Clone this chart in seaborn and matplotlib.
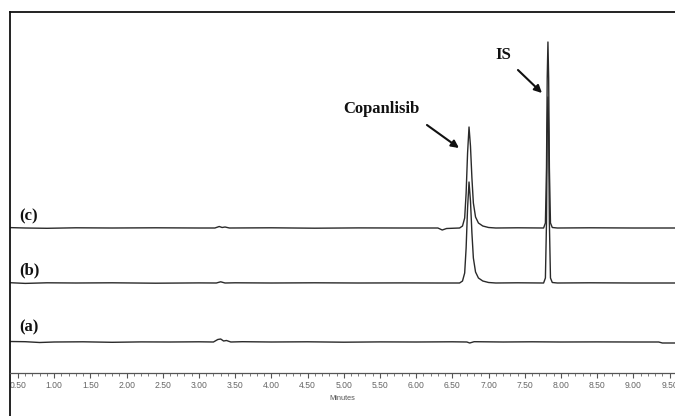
import matplotlib
matplotlib.use("Agg")
import matplotlib.pyplot as plt
import seaborn as sns
import pandas as pd
import numpy as np

# ---- data (signal in arbitrary units above each baseline) ----
trace_names = ["(a)", "(b)", "(c)"]
trace_offsets = [31, 90, 145]

time_a = [0.39, 0.60, 0.80, 1.00, 1.40, 1.80, 2.20, 2.60, 3.00, 3.20, 3.26, 3.30, 3.34, 3.38, 3.44,
          3.60, 4.00, 4.50, 5.00, 5.50, 6.00, 6.50, 6.70, 6.74, 6.80, 7.20, 7.60, 8.00, 8.50, 9.00, 9.35, 9.40, 9.58]
signal_a = [0.5, 0.3, -0.5, 0.0, 0.2, -0.3, 0.1, 0.0, 0.2, 0.0, 2.5, 3.0, 1.0, 1.5, 0.0,
            0.3, 0.0, 0.2, -0.2, 0.1, 0.0, 0.2, 0.0, -1.0, 0.3, 0.0, 0.2, 0.0, 0.1, 0.0, 0.0, -1.0, -1.0]

time_b = [0.39, 0.60, 0.90, 1.30, 1.80, 2.40, 3.00, 3.24, 3.30, 3.36, 3.50, 4.00, 4.60, 5.20, 5.80, 6.30,
          6.60, 6.64, 6.67, 6.69, 6.71, 6.73, 6.75, 6.77, 6.79, 6.82, 6.86, 6.92, 7.00, 7.10, 7.40,
          7.76, 7.785, 7.80, 7.81, 7.82, 7.83, 7.84, 7.855, 7.88, 7.95, 8.40, 9.00, 9.58]
signal_b = [0.3, -0.4, 0.2, 0.0, 0.2, -0.2, 0.1, 0.0, 1.2, 0.0, 0.2, 0.0, 0.2, 0.0, 0.1, 0.0,
            0.0, 2.0, 10.0, 35.0, 75.0, 101.0, 82.0, 50.0, 25.0, 11.0, 5.0, 2.0, 0.5, 0.0, 0.2,
            0.0, 5.0, 60.0, 150.0, 186.0, 150.0, 60.0, 5.0, 0.5, 0.0, 0.2, 0.0, 0.0]

time_c = [0.39, 0.60, 0.90, 1.30, 1.80, 2.40, 3.00, 3.22, 3.28, 3.32, 3.36, 3.42, 4.00, 4.60, 5.20, 5.80,
          6.30, 6.36, 6.42, 6.60, 6.64, 6.67, 6.69, 6.71, 6.73, 6.75, 6.77, 6.79, 6.82, 6.86, 6.92, 7.00,
          7.10, 7.40, 7.76, 7.785, 7.80, 7.81, 7.82, 7.83, 7.84, 7.855, 7.88, 7.95, 8.40, 9.00, 9.58]
signal_c = [0.4, 0.0, -0.3, 0.2, 0.0, 0.2, 0.0, 0.0, 1.5, 0.5, 1.0, 0.0, 0.2, -0.2, 0.1, 0.0,
            0.0, -2.0, -0.5, 0.0, 2.0, 10.0, 35.0, 75.0, 101.0, 82.0, 50.0, 25.0, 11.0, 5.0, 2.0, 0.5,
            0.0, 0.2, 0.0, 5.0, 60.0, 150.0, 186.0, 150.0, 60.0, 5.0, 0.5, 0.0, 0.2, 0.0, 0.0]

tick_values = [0.50, 1.00, 1.50, 2.00, 2.50, 3.00, 3.50, 4.00, 4.50, 5.00,
               5.50, 6.00, 6.50, 7.00, 7.50, 8.00, 8.50, 9.00, 9.50]
tick_labels = ["0.50", "1.00", "1.50", "2.00", "2.50", "3.00", "3.50", "4.00", "4.50", "5.00",
               "5.50", "6.00", "6.50", "7.00", "7.50", "8.00", "8.50", "9.00", "9.50"]

peak_names = ["Copanlisib", "IS"]

# ---- build table ----
frames = []
for name, off, t, s in zip(trace_names, trace_offsets,
                           [time_a, time_b, time_c], [signal_a, signal_b, signal_c]):
    frames.append(pd.DataFrame({"Minutes": t, "y": np.array(s) + off, "trace": name}))
df = pd.concat(frames, ignore_index=True)

sns.set_theme(style="white")
plt.rcParams["font.family"] = ["Liberation Sans", "DejaVu Sans"]

W, H = 675, 416
fig = plt.figure(figsize=(W / 100, H / 100), dpi=100)
ax = fig.add_axes([10 / W, 0, 665 / W, 404 / H])

sns.lineplot(data=df, x="Minutes", y="y", units="trace", estimator=None, sort=False,
             color="#2a2a2a", linewidth=1.0, ax=ax, legend=False)

ax.set_xlim(0.39, 9.575)
ax.set_ylim(-43, 361)

# spines
for sp in ["left", "top"]:
    ax.spines[sp].set_visible(True)
    ax.spines[sp].set_color("#111111")
    ax.spines[sp].set_linewidth(1.3)
ax.spines["right"].set_visible(False)
ax.spines["bottom"].set_position(("data", 0))
ax.spines["bottom"].set_color("#555555")
ax.spines["bottom"].set_linewidth(0.9)

ax.set_yticks([])
ax.set_xticks(tick_values)
ax.set_xticklabels(tick_labels)
ax.set_xticks(np.arange(0.5, 9.6, 0.1), minor=True)
ax.tick_params(axis="x", which="major", direction="out", length=3.5, width=0.8,
               color="#555555", labelsize=6.2, labelcolor="#666666", pad=2.5, bottom=True)
ax.tick_params(axis="x", which="minor", direction="out", length=2, width=0.6,
               color="#666666", bottom=True)
ax.set_xlabel("Minutes", fontsize=5.3, color="#555555", labelpad=3)
ax.set_ylabel("")

# px -> data helpers for annotation placement
def tx(px):
    return 0.5 + (px - 18) / 72.4

def ty(py):
    return 373 - py

serif = ["Liberation Serif", "DejaVu Serif"]
for name, py in zip(["(c)", "(b)", "(a)"], [216, 270, 327]):
    ax.text(tx(29), ty(py), name, fontsize=12, fontweight="bold", family=serif,
            ha="center", va="center", color="#111111")

ax.text(tx(381), ty(109), peak_names[0], fontsize=12, fontweight="bold", family=serif,
        ha="center", va="center", color="#111111")
ax.text(tx(503), ty(55), peak_names[1], fontsize=12, fontweight="bold", family=serif,
        ha="center", va="center", color="#111111")

arrow = dict(arrowstyle="-|>", color="#111111", lw=1.5, mutation_scale=11, shrinkA=0, shrinkB=0)
ax.annotate("", xy=(tx(459), ty(148)), xytext=(tx(427), ty(125)), arrowprops=arrow)
ax.annotate("", xy=(tx(542), ty(93)), xytext=(tx(518), ty(70)), arrowprops=arrow)

fig.savefig("out.png", dpi=100)
